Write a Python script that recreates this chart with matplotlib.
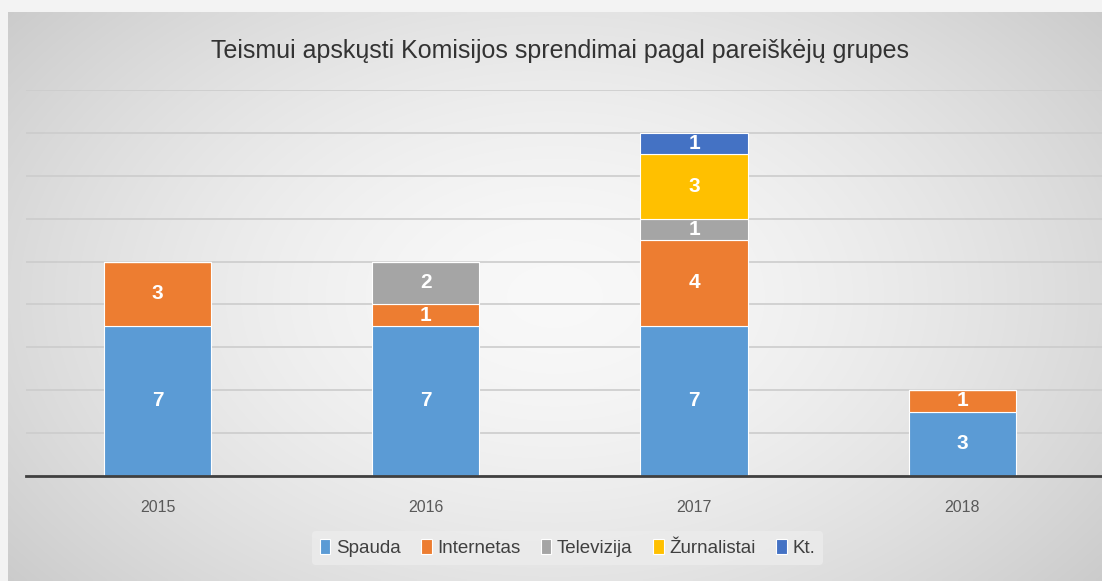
import numpy as np
import matplotlib.pyplot as plt
from matplotlib import font_manager

years = ['2015', '2016', '2017', '2018']
series = ['Spauda', 'Internetas', 'Televizija', 'Žurnalistai', 'Kt.']
spauda = [7, 7, 7, 3]
internetas = [3, 1, 4, 1]
televizija = [0, 2, 1, 0]
zurnalistai = [0, 0, 3, 0]
kt = [0, 0, 1, 0]
colors = ['#5b9bd5', '#ed7d31', '#a5a5a5', '#ffc000', '#4472c4']

names = {f.name for f in font_manager.fontManager.ttflist}
fam = ['Liberation Sans Narrow', 'DejaVu Sans'] if 'Liberation Sans Narrow' in names else ['Liberation Sans', 'DejaVu Sans']
plt.rcParams['font.family'] = fam

fig = plt.figure(figsize=(11.02, 5.81), dpi=100)
fig.patch.set_facecolor('#f3f3f3')

# background gradient of the chart area
bg = fig.add_axes([8 / 1102, 0, 1 - 8 / 1102, 1 - 12 / 581])
gx = np.linspace(-1, 1, 300)
gy = np.linspace(-1, 1, 160)
X, Y = np.meshgrid(gx, gy)
R = np.sqrt((X * 0.95) ** 2 + (Y * 0.75) ** 2)
shade = 0.975 - 0.13 * np.clip(R, 0, 1.3) ** 1.6
bg.imshow(np.dstack([shade] * 3), aspect='auto', extent=[0, 1, 0, 1], interpolation='bilinear')
bg.axis('off')

ax = fig.add_axes([26 / 1102, 1 - 476 / 581, 1 - 26 / 1102, (476 - 90) / 581])
ax.patch.set_alpha(0)

x = np.arange(len(years))
data = [spauda, internetas, televizija, zurnalistai, kt]
bottom = np.zeros(len(years))
for name, vals, c in zip(series, data, colors):
    vals = np.array(vals, dtype=float)
    ax.bar(x, vals, 0.4, bottom=bottom, color=c, edgecolor='white', linewidth=0.8,
           label=name, zorder=3)
    for xi, b, v in zip(x, bottom, vals):
        if v > 0:
            ax.text(xi, b + v / 2, f'{int(v)}', ha='center', va='center', color='white',
                    fontsize=15, fontweight='bold', zorder=4)
    bottom += vals

ax.set_xlim(-0.49, 3.52)
ax.set_ylim(0, 18)
ax.set_yticks(np.arange(0, 19, 2))
ax.yaxis.grid(True, color='#cccccc', linewidth=1.2, zorder=0)
ax.tick_params(axis='y', left=False, labelleft=False)
ax.tick_params(axis='x', bottom=False, pad=14, labelsize=11.5, labelcolor='#595959')
ax.set_xticks(x)
ax.set_xticklabels(years)
for s in ['top', 'right', 'left']:
    ax.spines[s].set_visible(False)
ax.spines['bottom'].set_color('#404040')
ax.spines['bottom'].set_linewidth(2)
ax.spines['bottom'].set_zorder(5)

fig.text(0.508, 1 - 51 / 581, 'Teismui apskųsti Komisijos sprendimai pagal pareiškėjų grupes',
         ha='center', va='center', fontsize=18, color='#333333')

leg = fig.legend(loc='center', bbox_to_anchor=(0.515, 1 - 548 / 581), ncol=5, frameon=True,
                 fontsize=13.5, handlelength=0.55, handleheight=0.9, handletextpad=0.3,
                 columnspacing=1.1, borderpad=0.4)
leg.get_frame().set_facecolor('#ececec')
leg.get_frame().set_edgecolor('none')
leg.get_frame().set_alpha(0.8)
for t in leg.get_texts():
    t.set_color('#404040')

fig.savefig('out.png', dpi=100)
